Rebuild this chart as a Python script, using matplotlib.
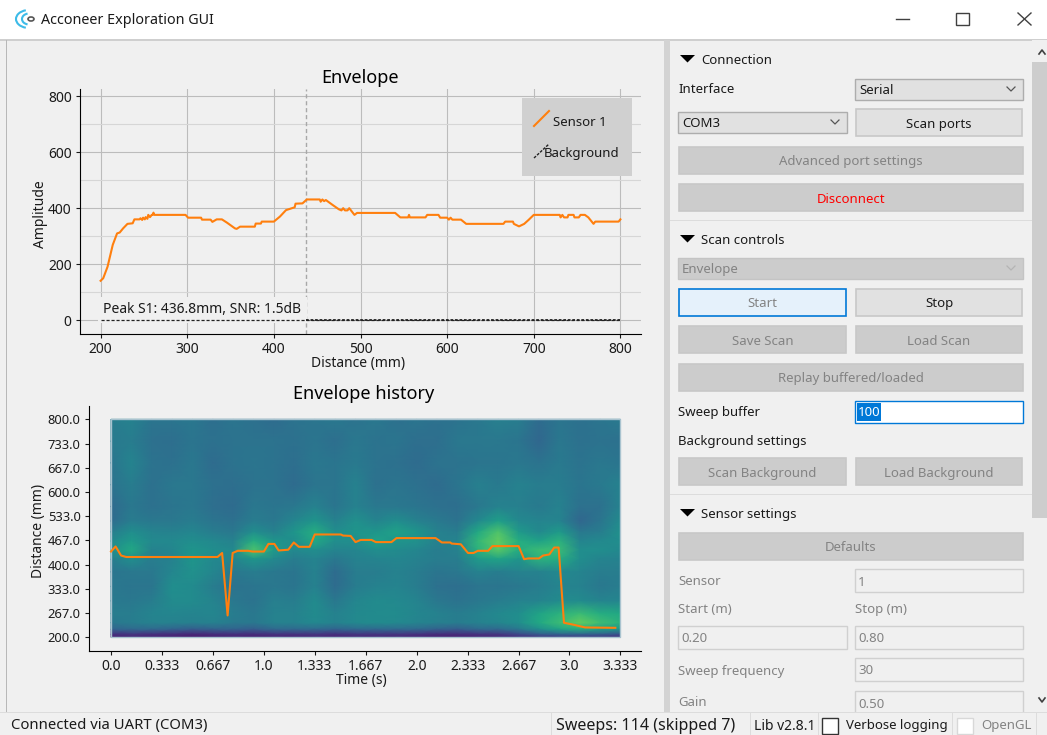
import numpy as np
import matplotlib
matplotlib.use('Agg')
import matplotlib.pyplot as plt
from matplotlib.patches import Rectangle, Arc, Ellipse, Polygon

plt.rcParams['font.family'] = ['Noto Sans', 'DejaVu Sans']

# envelope sweep
dist_mm = [200, 203, 208, 214, 219, 222, 226, 231, 237, 239, 245, 246, 248, 249, 251, 252, 254, 255, 257, 259,
           260, 261, 262, 298, 301, 316, 317, 327, 329, 334, 340, 346, 355, 357, 361, 378, 379, 385, 386, 400,
           407, 414, 424, 425, 433, 438, 453, 454, 456, 458, 460, 468, 475, 478, 480, 482, 485, 487, 490, 493,
           496, 540, 546, 555, 556, 557, 575, 577, 590, 592, 600, 602, 604, 606, 616, 622, 665, 667, 676, 677,
           683, 689, 694, 700, 730, 731, 733, 735, 739, 740, 746, 747, 752, 754, 759, 763, 769, 771, 798, 800]
amplitude = [141, 150, 191, 269, 310, 313, 328, 344, 346, 360, 360, 364, 358, 366, 360, 368, 362, 376, 368, 376,
             376, 384, 376, 376, 366, 366, 359, 359, 351, 360, 360, 348, 328, 326, 334, 334, 345, 345, 352, 352,
             370, 393, 403, 416, 417, 431, 431, 423, 431, 425, 429, 411, 396, 392, 400, 392, 392, 400, 388, 376,
             383, 383, 367, 367, 376, 367, 367, 376, 376, 366, 366, 359, 366, 359, 359, 344, 344, 352, 352, 344,
             335, 344, 358, 376, 376, 367, 376, 367, 367, 376, 376, 367, 367, 376, 376, 367, 344, 352, 352, 360]
background_x = [200, 800]
background_y = [0, 0]
peak_mm = 436.8

# detected peak distance over time
time_s = [0, .03, .066, .1, .697, .727, .763, .796, .829, .898, .926, 1.0, 1.03, 1.069, 1.097, 1.16, 1.196, 1.229,
          1.3, 1.333, 1.504, 1.518, 1.568, 1.6, 1.634, 1.705, 1.733, 1.835, 1.868, 2.124, 2.165, 2.22, 2.229, 2.289,
          2.336, 2.372, 2.4, 2.468, 2.496, 2.667, 2.703, 2.73, 2.8, 2.827, 2.868, 2.9, 2.929, 2.964, 3.033, 3.102, 3.3]
peak_hist = [436, 450, 425, 421, 421, 432, 260, 432, 438, 438, 436, 436, 457, 457, 439, 441, 461, 449,
             449, 483, 483, 480, 479, 462, 468, 468, 462, 462, 473, 473, 461, 461, 458, 456,
             432, 432, 438, 438, 451, 451, 415, 417, 417, 425, 428, 447, 447, 240, 234, 227, 226]

# heatmap cells (colormap position), rows top to bottom, estimated by eye
hist_dist = [800, 740, 680, 620, 560, 520, 490, 465, 440, 415, 380, 340, 300, 265, 240, 222, 208, 200]
hist_time = [0, .133, .267, .4, .533, .667, .8, .933, 1.067, 1.2, 1.333, 1.467, 1.6, 1.733, 1.867, 2.0, 2.133,
             2.267, 2.4, 2.533, 2.667, 2.8, 2.933, 3.067, 3.2, 3.333]
hist_vals = [
    [.40, .42, .37, .37, .38, .34, .37, .35, .33, .36, .37, .38, .36, .38, .35, .37, .35, .36, .38, .41, .40, .33, .37, .35, .37, .39],
    [.39, .40, .35, .34, .37, .35, .36, .36, .36, .35, .37, .34, .38, .36, .37, .34, .34, .38, .38, .38, .37, .31, .38, .35, .36, .35],
    [.37, .43, .36, .35, .38, .33, .36, .37, .36, .34, .38, .37, .39, .36, .35, .33, .36, .36, .37, .37, .38, .36, .39, .36, .38, .37],
    [.36, .40, .35, .38, .38, .35, .34, .36, .36, .33, .37, .37, .42, .35, .37, .35, .33, .37, .41, .39, .42, .40, .40, .37, .39, .42],
    [.32, .38, .35, .37, .38, .34, .33, .38, .37, .38, .42, .37, .42, .38, .38, .37, .35, .34, .38, .42, .41, .39, .42, .35, .35, .42],
    [.33, .40, .38, .38, .40, .37, .35, .40, .38, .44, .50, .42, .48, .43, .47, .42, .39, .36, .45, .54, .45, .43, .43, .31, .37, .46],
    [.40, .47, .43, .42, .44, .40, .38, .47, .42, .50, .60, .47, .50, .50, .55, .50, .42, .40, .58, .70, .52, .45, .52, .38, .40, .48],
    [.45, .52, .45, .45, .47, .45, .42, .60, .50, .47, .58, .47, .47, .55, .50, .48, .42, .43, .64, .74, .60, .55, .62, .43, .45, .47],
    [.47, .58, .42, .44, .50, .47, .45, .70, .52, .45, .47, .43, .44, .47, .46, .44, .40, .42, .62, .72, .60, .66, .66, .47, .47, .45],
    [.40, .47, .40, .42, .50, .45, .43, .50, .45, .40, .43, .38, .42, .43, .44, .42, .40, .40, .52, .56, .50, .62, .60, .47, .43, .42],
    [.37, .38, .38, .44, .48, .44, .38, .40, .38, .37, .42, .33, .40, .40, .42, .40, .37, .38, .42, .40, .42, .42, .45, .43, .40, .40],
    [.38, .37, .37, .47, .46, .40, .36, .37, .38, .37, .42, .33, .40, .42, .43, .40, .35, .34, .37, .37, .38, .40, .43, .42, .38, .40],
    [.39, .38, .40, .46, .46, .43, .38, .36, .41, .40, .46, .38, .44, .46, .45, .43, .38, .36, .38, .40, .42, .43, .46, .46, .43, .44],
    [.40, .40, .43, .44, .43, .44, .40, .38, .42, .42, .46, .42, .45, .46, .46, .44, .42, .40, .42, .45, .47, .56, .62, .66, .60, .58],
    [.38, .40, .42, .42, .41, .42, .39, .38, .42, .42, .45, .42, .45, .46, .45, .43, .41, .40, .42, .44, .47, .58, .66, .74, .67, .62],
    [.30, .32, .32, .30, .27, .29, .30, .27, .32, .32, .32, .30, .32, .32, .32, .32, .29, .27, .32, .32, .38, .47, .56, .60, .54, .50],
    [.12, .14, .12, .11, .09, .11, .12, .11, .13, .13, .14, .12, .14, .14, .14, .13, .11, .11, .13, .14, .20, .27, .30, .30, .28, .24],
    [.08, .09, .08, .07, .06, .07, .08, .07, .08, .08, .09, .08, .09, .09, .09, .08, .07, .07, .08, .09, .12, .14, .16, .16, .15, .13],
]

x_ticks_top = [200, 300, 400, 500, 600, 700, 800]
y_ticks_top = [0, 200, 400, 600, 800]
y_minor_top = [100, 300, 500, 700]
x_ticks_hist = [0, 1/3, 2/3, 1, 4/3, 5/3, 2, 7/3, 8/3, 3, 10/3]
x_labels_hist = ['0.0', '0.333', '0.667', '1.0', '1.333', '1.667', '2.0', '2.333', '2.667', '3.0', '3.333']
y_ticks_hist = [200, 800/3, 1000/3, 400, 1400/3, 1600/3, 600, 2000/3, 2200/3, 800]
y_labels_hist = ['200.0', '267.0', '333.0', '400.0', '467.0', '533.0', '600.0', '667.0', '733.0', '800.0']

W, H = 1047, 735
BG = '#f0f0f0'
ORANGE = '#ff7f0e'
TXT = '#1a1a1a'
GREY_TXT = '#838383'
FS = 10
UI_FS = 9.5

fig = plt.figure(figsize=(W / 100, H / 100), dpi=100, facecolor=BG)


def axes_px(x0, y0, x1, y1, **kw):
    return fig.add_axes([x0 / W, 1 - y1 / H, (x1 - x0) / W, (y1 - y0) / H], **kw)


def style_axes(ax):
    ax.set_facecolor(BG)
    ax.spines['top'].set_visible(False)
    ax.spines['right'].set_visible(False)
    ax.tick_params(labelsize=FS, length=3, width=0.8, pad=3, colors=TXT)


# --- envelope plot
ax = axes_px(80, 89, 641, 333.7)
style_axes(ax)
ax.set_xlim(176.2, 823.8)
ax.set_ylim(-47.8, 825)
ax.set_xticks(x_ticks_top)
ax.set_yticks(y_ticks_top)
ax.set_yticks(y_minor_top, minor=True)
ax.tick_params(which='minor', length=0)
ax.grid(True, color='#bcbcbc', lw=0.8)
ax.grid(True, which='minor', axis='y', color='#d6d6d6', lw=0.8)
ax.set_axisbelow(True)
ax.axvline(peak_mm, color='#a8a8a8', lw=1, ls=(0, (3, 2)))
ax.text(203, 38, 'Peak S1: 436.8mm, SNR: 1.5dB', fontsize=FS, color=TXT, va='center', ha='left',
        bbox=dict(facecolor=BG, edgecolor='none', pad=4))
ax.plot(background_x, background_y, color='#222222', lw=0.9, ls=(0, (2.5, 1.5)), zorder=4)
ax.plot([peak_mm, background_x[1]], background_y, color='#222222', lw=1.3, ls=(0, (1.5, 1)), zorder=4)
ax.plot(dist_mm, amplitude, color=ORANGE, lw=1.5)
ax.set_title('Envelope', fontsize=13, color='black', x=0.5, y=1.0, pad=4)
ax.set_xlabel('Distance (mm)', fontsize=FS, color=TXT)
ax.xaxis.set_label_coords(0.496, -0.0915)
ax.set_ylabel('Amplitude', fontsize=FS, color=TXT)
ax.yaxis.set_label_coords(-0.057, 0.49)

# --- history plot
ax2 = axes_px(89, 406, 641, 650.7)
style_axes(ax2)
ax2.tick_params(axis='y', labelsize=9.3)
ax2.set_xlim(-0.144, 3.468)
ax2.set_ylim(163, 836.7)
ax2.pcolormesh(hist_time, hist_dist, np.array(hist_vals), cmap='viridis', vmin=-0.02, vmax=0.98, shading='gouraud')
ax2.add_patch(Rectangle((0, 200), 10 / 3, 600, fill=False, ec='#a9c3cf', lw=1))
ax2.plot(time_s, peak_hist, color=ORANGE, lw=1.5)
ax2.set_xticks(x_ticks_hist, x_labels_hist)
ax2.set_yticks(y_ticks_hist, y_labels_hist)
ax2.set_title('Envelope history', fontsize=13, color='black', x=0.498, y=1.0, pad=5)
ax2.set_xlabel('Time (s)', fontsize=FS, color=TXT)
ax2.xaxis.set_label_coords(0.494, -0.0915)
ax2.set_ylabel('Distance (mm)', fontsize=FS, color=TXT)
ax2.yaxis.set_label_coords(-0.078, 0.49)

# --- window chrome drawn in pixel coordinates
ui = axes_px(0, 0, W, H, zorder=5)
ui.set_xlim(0, W)
ui.set_ylim(H, 0)
ui.axis('off')


def box(x0, y0, x1, y1, fc, ec='none', lw=1, alpha=None):
    ui.add_patch(Rectangle((x0, y0), x1 - x0, y1 - y0, fc=fc, ec=ec, lw=lw, alpha=alpha))


def label(x, y, s, color=TXT, ha='left', fs=UI_FS):
    ui.text(x, y + 1.5, s, color=color, ha=ha, va='center', fontsize=fs)


def button(x0, y0, x1, y1, s, color=GREY_TXT, fc='#cccccc', ec='#c8c8c8'):
    box(x0, y0, x1, y1, fc, ec, 1.2)
    label((x0 + x1) / 2, (y0 + y1) / 2, s, color, 'center')


def combo(x0, y0, x1, y1, s, fc='#e1e1e1', ec='#adadad', color=TXT, chev='#555555'):
    box(x0, y0, x1, y1, fc, ec, 1)
    label(x0 + 4, (y0 + y1) / 2, s, color)
    cx, cy = x1 - 12, (y0 + y1) / 2
    ui.plot([cx - 4, cx, cx + 4], [cy - 2, cy + 2, cy - 2], color=chev, lw=0.9)


def field(x0, y0, x1, y1, s):
    box(x0, y0, x1, y1, BG, '#d0d0d0', 1)
    label(x0 + 3, (y0 + y1) / 2, s, GREY_TXT)


def section(y, s):
    ui.add_patch(Polygon([(680, y - 4), (695, y - 4), (687.5, y + 3.5)], fc='black', ec='none'))
    label(701, y, s)


# legend of the envelope plot
box(522, 98, 632, 176, '#d0d0d0')
ui.plot([534, 549], [126, 111], color=ORANGE, lw=1.5)
label(553, 120.5, 'Sensor 1')
ui.plot([534, 549], [158, 144], color='#222222', lw=1, ls=(0, (2, 1)))
label(544, 151.5, 'Background')

# title bar
box(0, 0, W, 38.5, 'white')
box(0, 38.5, W, 40.5, '#cfcfcf')
ui.add_patch(Ellipse((31, 19), 6, 4, fc='none', ec='#555555', lw=1.2))
ui.add_patch(Arc((29, 19), 26, 18, theta1=110, theta2=250, ec='#3dbbe8', lw=1.5))
ui.add_patch(Arc((29, 19), 14, 11, theta1=105, theta2=255, ec='#3dbbe8', lw=1.5))
label(41, 18.5, 'Acconeer Exploration GUI', fs=10.3)
ui.plot([896, 909], [19, 19], color='#404040', lw=1)
box(956, 13, 969, 25, 'none', '#404040', 1)
ui.plot([1018, 1031], [13, 25], color='#404040', lw=1)
ui.plot([1018, 1031], [25, 13], color='#404040', lw=1)

# frame around the plots, splitter, scroll bar
box(5.5, 40, 6.8, 712, '#b8b8b8')
box(664, 40, 670, 712, '#d3d3d3')
box(1032, 40, W, 712, '#f0f0f0')
box(1032, 62, W, 518, '#cdcdcd')
ui.plot([1039, 1042, 1045], [54, 50, 54], color='#404040', lw=1.2)
ui.plot([1039, 1042, 1045], [698, 702, 698], color='#404040', lw=1.2)

# control panel
section(59, 'Connection')
label(678, 87.5, 'Interface')
combo(855, 78.5, 1023, 99.5, 'Serial')
combo(678, 111.5, 847, 132.5, 'COM3')
button(856, 109, 1022, 136, 'Scan ports', TXT, '#e1e1e1', '#c8c8c8')
button(679, 146.5, 1023, 173.5, 'Advanced port settings')
button(679, 184, 1023, 211, 'Disconnect', '#ff0000')
box(670, 220, 1032, 221, '#dcdcdc')

section(239, 'Scan controls')
combo(678, 257.5, 1023, 278.5, 'Envelope', '#cccccc', '#c4c4c4', GREY_TXT, '#b4b4b4')
button(679, 288.5, 846, 315.5, 'Start', GREY_TXT, '#e5f1fb', '#0078d7')
button(856, 288.5, 1022, 315.5, 'Stop', TXT, '#e1e1e1', '#c8c8c8')
button(679, 326, 846, 353, 'Save Scan')
button(856, 326, 1022, 353, 'Load Scan')
button(679, 363.5, 1023, 390.5, 'Replay buffered/loaded')
label(678, 411, 'Sweep buffer')
box(855, 400.5, 1023, 423, 'white', '#0078d7', 1)
box(857, 403, 881, 421, '#0078d7')
label(857.5, 411, '100', 'white')
label(678, 439.5, 'Background settings')
button(679, 458, 846, 485, 'Scan Background')
button(856, 458, 1022, 485, 'Load Background')
box(670, 494, 1032, 495, '#dcdcdc')

section(513, 'Sensor settings')
button(679, 532.5, 1023, 559.5, 'Defaults')
label(678, 580, 'Sensor', GREY_TXT)
field(855, 569, 1023, 592, '1')
label(678, 608, 'Start (m)', GREY_TXT)
label(855, 608, 'Stop (m)', GREY_TXT)
field(678, 626, 847, 649, '0.20')
field(855, 626, 1023, 649, '0.80')
label(678, 669.5, 'Sweep frequency', GREY_TXT)
field(855, 658, 1023, 681, '30')
label(678, 701.5, 'Gain', GREY_TXT)
field(855, 691, 1023, 714, '0.50')

# status bar
box(0, 712, W, H, BG)
box(0, 712, W, 713, '#dcdcdc')
label(11, 724.5, 'Connected via UART (COM3)', fs=10.7)
label(556, 724.5, 'Sweeps: 114 (skipped 7)', fs=11.5)
label(754, 724.5, 'Lib v2.8.1', fs=10)
box(821.5, 717.5, 838, 733.5, 'white', '#333333', 1)
label(846, 724.5, 'Verbose logging')
box(957, 717.5, 973, 733.5, 'white', '#d8d8d8', 1)
label(981, 724.5, 'OpenGL', GREY_TXT)
for sx in (551, 750, 818, 952, 1036):
    box(sx, 713, sx + 1, H, '#dcdcdc')

fig.savefig('out.png', dpi=100, facecolor=BG)
